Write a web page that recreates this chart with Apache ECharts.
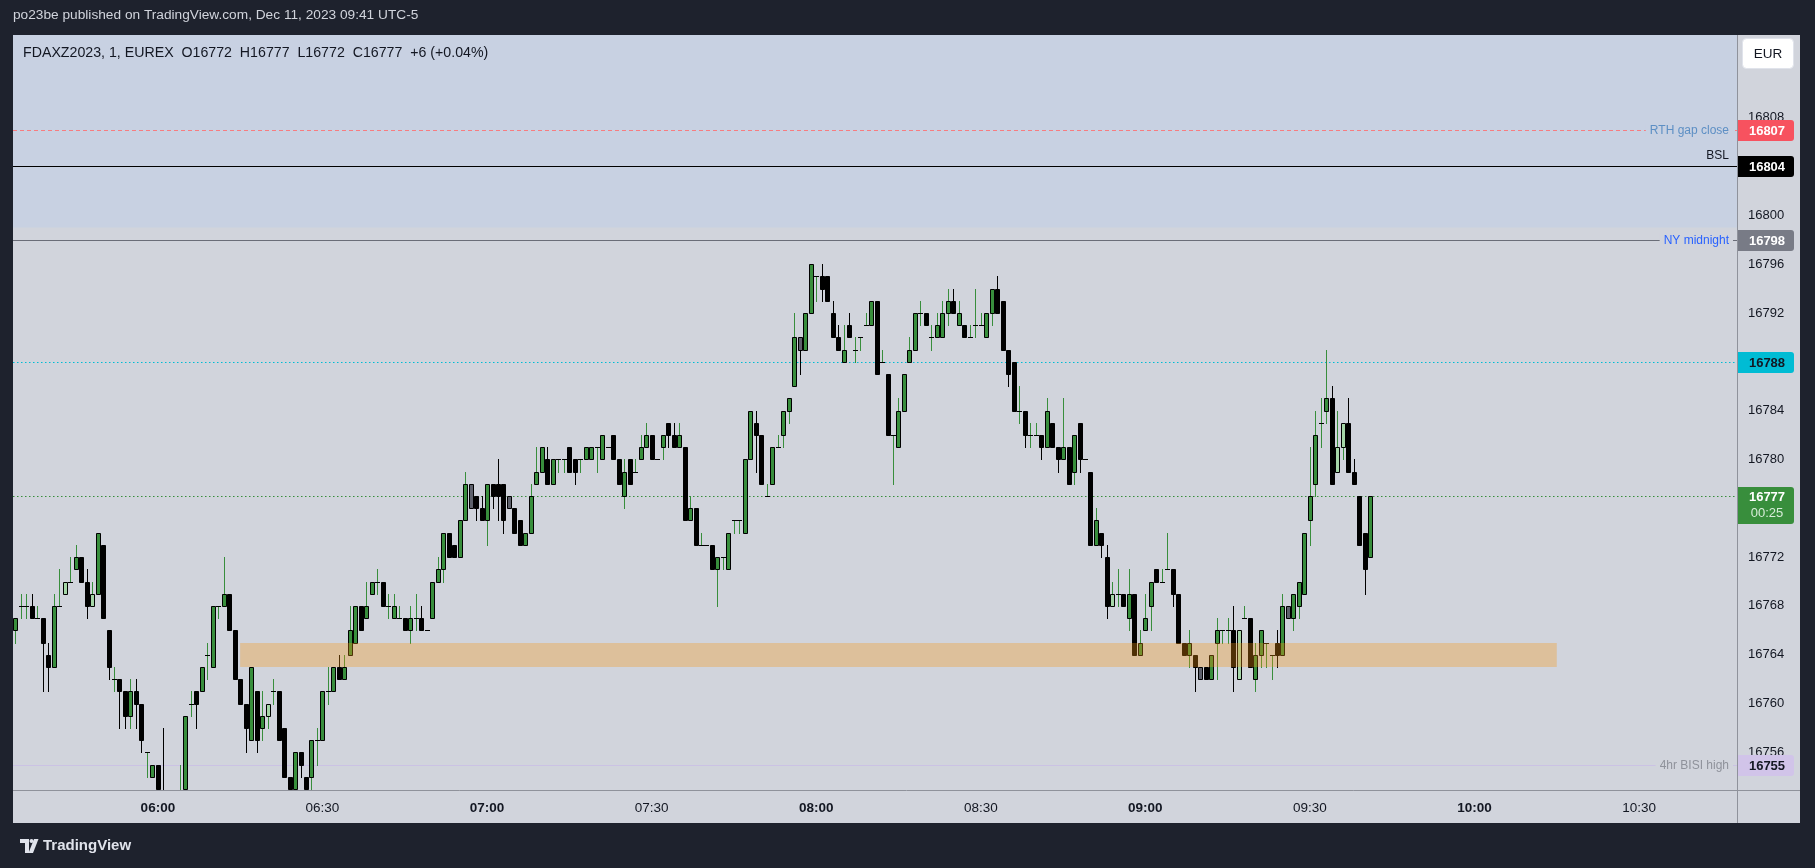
<!DOCTYPE html>
<html><head><meta charset="utf-8">
<script src="https://cdn.jsdelivr.net/npm/echarts@6/dist/echarts.min.js"></script>
<style>html,body{margin:0;padding:0;background:#1e222d;overflow:hidden}#c{width:1815px;height:868px}</style>
</head><body><div id="c"></div><script>
// ---------- data ----------
const symbolName = 'FDAXZ2023, 1, EUREX';
const firstBar = '05:34';
const opens = [
16766,16768,16768,16768,16767,16767,16764,16763,16768,16769,
16770,16771,16772,16770,16768,16769,16773,16766,16762,16762,
16761,16759,16761,16760,16756,16754,16755,16752,16751,16750,
16751,16752,16760,16761,16761,16764,16763,16768,16768,16769,
16766,16762,16760,16757,16761,16758,16759,16761,16761,16758,
16754,16752,16756,16754,16754,16757,16757,16761,16761,16763,
16762,16764,16765,16768,16767,16769,16770,16770,16768,16767,
16767,16767,16766,16767,16767,16766,16767,16770,16771,16774,
16773,16772,16775,16778,16777,16776,16775,16778,16778,16778,
16777,16776,16775,16773,16774,16778,16779,16780,16778,16780,
16780,16781,16780,16780,16780,16780,16781,16780,16781,16782,
16780,16777,16780,16779,16780,16781,16782,16780,16781,16783,
16782,16781,16781,16775,16776,16773,16773,16773,16771,16772,
16771,16775,16775,16774,16780,16783,16782,16777,16778,16781,
16782,16784,16786,16790,16789,16792,16795,16795,16795,16792,
16790,16788,16791,16789,16790,16791,16791,16793,16788,16787,
16782,16781,16784,16788,16789,16792,16792,16790,16790,16790,
16792,16793,16791,16791,16790,16791,16791,16790,16792,16794,
16793,16789,16788,16784,16784,16782,16782,16782,16781,16783,
16781,16780,16781,16779,16783,16780,16779,16773,16774,16772,
16768,16769,16769,16767,16769,16764,16766,16768,16771,16770,
16771,16771,16769,16765,16764,16764,16763,16763,16762,16765,
16766,16766,16766,16762,16767,16767,16762,16764,16765,16764,
16765,16764,16768,16767,16768,16769,16775,16778,16783,16784,
16785,16779,16781,16783,16779,16777,16774,16772];
const highs = [
16767,16769,16769,16769,16768,16767,16765,16769,16771,16770,
16772,16773,16772,16771,16770,16774,16773,16766,16763,16762,
16761,16762,16762,16760,16756,16755,16755,16758,16752,16752,
16755,16759,16761,16761,16763,16765,16768,16768,16772,16769,
16766,16762,16760,16763,16761,16761,16760,16762,16761,16758,
16754,16756,16756,16754,16757,16758,16761,16763,16763,16764,
16764,16768,16768,16768,16770,16770,16771,16770,16769,16769,
16768,16767,16768,16769,16768,16766,16770,16772,16774,16774,
16773,16775,16779,16778,16777,16777,16778,16778,16780,16778,
16777,16776,16775,16774,16778,16781,16781,16781,16780,16780,
16780,16781,16780,16780,16781,16781,16781,16782,16781,16782,
16780,16780,16780,16780,16782,16783,16782,16780,16782,16783,
16783,16783,16781,16777,16776,16774,16773,16773,16772,16772,
16774,16775,16775,16780,16784,16784,16782,16778,16781,16782,
16784,16785,16792,16790,16792,16796,16795,16796,16795,16793,
16791,16791,16792,16790,16790,16792,16793,16793,16789,16787,
16782,16785,16787,16790,16792,16793,16792,16791,16792,16793,
16794,16794,16793,16791,16791,16794,16792,16792,16794,16795,
16793,16789,16788,16786,16784,16783,16783,16782,16785,16783,
16781,16785,16781,16782,16783,16780,16779,16776,16774,16773,
16770,16771,16769,16771,16769,16766,16769,16770,16771,16771,
16774,16771,16769,16765,16766,16764,16763,16763,16764,16767,
16766,16767,16768,16766,16768,16767,16765,16766,16765,16764,
16766,16769,16768,16769,16770,16774,16781,16784,16785,16789,
16786,16784,16783,16785,16780,16777,16774,16777];
const lows = [
16765,16767,16767,16767,16767,16761,16761,16763,16768,16769,
16770,16771,16770,16767,16768,16769,16767,16762,16761,16758,
16758,16758,16758,16756,16754,16754,16751,16750,16749,16749,
16750,16752,16759,16758,16761,16762,16763,16767,16768,16766,
16762,16760,16756,16757,16756,16757,16758,16760,16757,16754,
16751,16751,16754,16751,16753,16755,16757,16760,16761,16762,
16762,16764,16765,16766,16767,16769,16769,16768,16767,16767,
16767,16766,16765,16766,16766,16766,16767,16770,16770,16772,
16772,16772,16775,16776,16775,16775,16773,16776,16775,16774,
16776,16774,16773,16773,16774,16778,16779,16778,16778,16779,
16779,16779,16778,16779,16780,16780,16779,16780,16781,16780,
16778,16776,16778,16779,16780,16781,16780,16780,16780,16781,
16781,16781,16775,16775,16773,16773,16773,16771,16768,16771,
16771,16774,16774,16774,16780,16779,16778,16777,16778,16781,
16781,16783,16786,16787,16789,16792,16793,16793,16793,16790,
16789,16788,16790,16788,16789,16791,16791,16787,16788,16782,
16778,16781,16784,16788,16789,16791,16791,16789,16790,16790,
16791,16792,16791,16790,16790,16790,16791,16790,16791,16792,
16789,16786,16784,16783,16781,16781,16782,16780,16781,16781,
16779,16780,16778,16778,16779,16780,16773,16773,16772,16767,
16768,16768,16768,16766,16764,16764,16766,16766,16770,16770,
16771,16768,16765,16764,16763,16761,16762,16762,16762,16762,
16765,16765,16761,16762,16767,16763,16761,16763,16763,16762,
16763,16764,16767,16766,16767,16769,16773,16777,16781,16783,
16778,16779,16780,16779,16778,16773,16769,16772];
const closes = [
16767,16768,16768,16767,16767,16765,16763,16768,16768,16770,
16770,16772,16770,16768,16769,16774,16767,16763,16762,16761,
16759,16761,16760,16757,16756,16755,16752,16751,16750,16751,
16752,16759,16760,16760,16763,16764,16768,16768,16769,16766,
16762,16760,16758,16763,16757,16759,16760,16761,16757,16754,
16752,16756,16755,16752,16757,16757,16761,16761,16763,16762,
16763,16766,16768,16766,16768,16770,16770,16768,16768,16768,
16767,16766,16767,16767,16766,16766,16770,16771,16774,16772,
16772,16775,16778,16776,16776,16775,16778,16777,16777,16775,
16776,16774,16773,16774,16777,16779,16781,16778,16780,16780,
16780,16779,16779,16780,16781,16781,16781,16782,16781,16780,
16778,16779,16778,16779,16781,16782,16780,16780,16782,16782,
16781,16782,16775,16776,16773,16773,16773,16771,16772,16772,
16774,16775,16775,16780,16784,16782,16778,16777,16781,16781,
16784,16785,16790,16789,16792,16796,16795,16794,16793,16790,
16789,16789,16790,16789,16790,16791,16793,16787,16788,16782,
16782,16784,16787,16789,16792,16792,16791,16790,16791,16792,
16793,16792,16792,16790,16790,16791,16791,16792,16794,16792,
16789,16787,16784,16784,16782,16782,16782,16781,16784,16781,
16780,16781,16778,16782,16780,16780,16773,16775,16773,16768,
16769,16769,16768,16769,16764,16765,16767,16770,16770,16770,
16771,16769,16765,16764,16765,16763,16762,16762,16764,16766,
16766,16766,16763,16766,16767,16763,16764,16766,16765,16764,
16764,16768,16767,16769,16770,16774,16777,16782,16783,16785,
16778,16781,16783,16779,16778,16773,16771,16777];
const insideUpBars = ['05:43','05:48','06:20','08:54','09:17','09:35','09:36'];
const insideDownBars = ['06:57','07:04','07:57','09:10','09:26'];
const timeTicks = ['06:00','06:30','07:00','07:30','08:00','08:30','09:00','09:30','10:00','10:30'];
const priceTicks = [16756,16760,16764,16768,16772,16780,16784,16792,16796,16800,16808];
const levelNames = ['RTH gap close','BSL','NY midnight','4hr BISI high'];
const levelPrices = [16807,16804,16798,16755];
const alertPrice = 16788;
const premiumFrom = 16799;
const zoneTimes = ['06:15','10:15'];
const zonePrices = [16763,16765];
const countdown = '00:25';
const publishLine = 'po23be published on TradingView.com, Dec 11, 2023 09:41 UTC-5';

// ---------- helpers ----------
const FONT = "'Liberation Sans', Arial, sans-serif";
const toMin = s => { const p = s.split(':').map(Number); return p[0]*60+p[1]; };
const fmt = m => String(Math.floor(m/60)).padStart(2,'0')+':'+String(m%60).padStart(2,'0');
const start = toMin(firstBar);
const times = opens.map((_, i) => fmt(start + i));
const upSet = new Set(insideUpBars), dnSet = new Set(insideDownBars);
const candleData = opens.map((o, i) => [toMin(times[i]), o, closes[i], lows[i], highs[i],
  upSet.has(times[i]) ? 1 : (dnSet.has(times[i]) ? 2 : 0)]);
const lastC = closes[closes.length-1], prevC = closes[closes.length-2];
const lastI = closes.length-1;

const PLOT = {left:13, top:35, width:1724, height:755};
const X_MIN = 333.59, X_MAX = 647.85;
const Y_MIN = 16752.92, Y_MAX = 16814.77;
const C_UP = '#388e3c', C_DN = '#000000', C_IUP = '#a5d6a7', C_IDN = '#5d606b';
const BG = '#d1d4dc', PREMIUM = '#c8d1e2';

function renderCandle(params, api) {
  const cs = params.coordSys;
  const top = cs.y, bot = cs.y + cs.height;
  const m = api.value(0), o = api.value(1), c = api.value(2), l = api.value(3), h = api.value(4), kind = api.value(5);
  const up = c >= o;
  const cx = Math.round(api.coord([m, o])[0]);
  const yO = Math.round(api.coord([m, o])[1]), yC = Math.round(api.coord([m, c])[1]);
  const yH = Math.round(api.coord([m, h])[1]), yL = Math.round(api.coord([m, l])[1]);
  const bw = Math.max(1, Math.round(api.size([1, 0])[0] * 0.85));
  const x0 = cx - Math.floor(bw/2);
  const cl = y => Math.max(top, Math.min(bot, y));
  const ch = [];
  const wickCol = up ? C_UP : C_DN;
  const wy1 = cl(yH), wy2 = cl(yL + 1);
  if (wy2 > wy1) ch.push({type:'line', shape:{x1:cx+0.5, y1:wy1, x2:cx+0.5, y2:wy2}, style:{stroke:wickCol, lineWidth:1}});
  let yT = Math.min(yO, yC), yB = Math.max(yO, yC);
  const fill = kind === 1 ? C_IUP : kind === 2 ? C_IDN : (up ? C_UP : C_DN);
  if (yB > yT) {
    const t2 = Math.max(top, yT), b2 = Math.min(bot - 1, yB);
    if (b2 > t2) ch.push({type:'rect', shape:{x:x0+0.5, y:t2+0.5, width:bw-1, height:b2-t2}, style:{fill:fill, stroke:'#000', lineWidth:1}});
  } else if (yT >= top && yT <= bot) {
    ch.push({type:'line', shape:{x1:x0, y1:yT+0.5, x2:x0+bw, y2:yT+0.5}, style:{stroke:'#000', lineWidth:1}});
  }
  return {type:'group', children:ch};
}
function renderPremium(params, api) {
  const cs = params.coordSys;
  const y1 = api.coord([X_MIN, api.value(0)])[1];
  return {type:'rect', shape:{x:cs.x, y:cs.y, width:cs.width, height:y1 - cs.y}, style:{fill:PREMIUM}};
}
function renderZone(params, api) {
  const p1 = api.coord([api.value(0), api.value(3)]);
  const p2 = api.coord([api.value(1), api.value(2)]);
  return {type:'rect', shape:{x:p1[0], y:Math.round(p1[1]), width:p2[0]-p1[0], height:Math.round(p2[1])-Math.round(p1[1])},
    style:{fill:'rgba(247,150,20,0.32)'}};
}
const lineStyles = [
  {stroke:'#f77c80', lineDash:[4,3]},
  {stroke:'#000000', lineDash:null},
  {stroke:'#6a6d78', lineDash:null},
  {stroke:'#cbc2e4', lineDash:null},
  {stroke:'#00bcd4', lineDash:[1.5,2.5]},
  {stroke:'#388e3c', lineDash:[1.5,2.5]}
];
function renderLevel(params, api) {
  const cs = params.coordSys;
  const y = Math.round(api.coord([X_MIN, api.value(0)])[1]) + 0.5;
  const st = lineStyles[params.dataIndex];
  return {type:'line', shape:{x1:cs.x, y1:y, x2:cs.x+cs.width, y2:y},
    style:{stroke:st.stroke, lineWidth:1, lineDash:st.lineDash}};
}

const chart = echarts.init(document.getElementById('c'));
chart.setOption({
  animation:false,
  backgroundColor:'#1e222d',
  grid:{left:PLOT.left, top:PLOT.top, width:PLOT.width, height:PLOT.height, show:true, backgroundColor:BG, borderWidth:0},
  xAxis:{type:'value', min:X_MIN, max:X_MAX, splitLine:{show:false}, axisLine:{show:false}, axisTick:{show:false},
    axisLabel:{customValues: timeTicks.map(toMin), margin:11, color:'#131722', fontSize:13.5, fontFamily:FONT,
      formatter: v => (v % 60 === 0 ? '{b|' + fmt(v) + '}' : fmt(v)),
      rich:{b:{fontWeight:'bold', fontSize:13.5, fontFamily:FONT, color:'#131722'}}}},
  yAxis:{type:'value', position:'right', min:Y_MIN, max:Y_MAX, scale:true, splitLine:{show:false},
    axisLine:{show:false}, axisTick:{show:false},
    axisLabel:{customValues: priceTicks, margin:11, color:'#131722', fontSize:13, fontFamily:FONT,
      formatter: v => String(Math.round(v))}},
  series:[
    {type:'custom', name:'premium', z:1, silent:true, renderItem:renderPremium, data:[[premiumFrom]]},
    {type:'custom', name:'levels', z:2, silent:true, renderItem:renderLevel,
      data:[...levelPrices, alertPrice, lastC].map(v => [v])},
    {type:'custom', name:'candles', z:5, silent:true, renderItem:renderCandle, data:candleData,
      encode:{x:0, y:[1,2,3,4]}, clip:true},
    {type:'custom', name:'zone', z:8, silent:true, renderItem:renderZone,
      data:[[toMin(zoneTimes[0]), toMin(zoneTimes[1]), zonePrices[0], zonePrices[1]]]}
  ]
});

// ---------- annotations ----------
const yPx = v => chart.convertToPixel({yAxisIndex:0}, v);
const AX = PLOT.left + PLOT.width; // price axis left edge
const RIGHT = 1800, TBOT = 823;
const g = [];
g.push({type:'rect', z:-5, shape:{x:PLOT.left, y:PLOT.top, width:RIGHT-PLOT.left, height:TBOT-PLOT.top}, style:{fill:BG}});
g.push({type:'line', z:50, shape:{x1:AX+0.5, y1:PLOT.top, x2:AX+0.5, y2:TBOT}, style:{stroke:'#8f929b', lineWidth:1}});
g.push({type:'line', z:50, shape:{x1:PLOT.left, y1:PLOT.top+PLOT.height+0.5, x2:RIGHT, y2:PLOT.top+PLOT.height+0.5}, style:{stroke:'#8f929b', lineWidth:1}});
// header texts
g.push({type:'text', z:60, style:{text:publishLine, x:13, y:15, fill:'#d1d4dc', font:'13.7px '+FONT, verticalAlign:'middle'}});
const chg = lastC - prevC;
const legend = symbolName + '  O' + opens[lastI] + '  H' + highs[lastI] + '  L' + lows[lastI] + '  C' + closes[lastI] +
  '  ' + (chg >= 0 ? '+' : '') + chg + ' (' + (chg >= 0 ? '+' : '') + (chg / prevC * 100).toFixed(2) + '%)';
g.push({type:'text', z:60, style:{text:legend, x:23, y:53, fill:'#131722', font:'14.2px '+FONT, verticalAlign:'middle'}});
// EUR button
g.push({type:'rect', z:60, shape:{x:1742.5, y:38.5, width:51, height:30, r:4}, style:{fill:'#ffffff', stroke:'#e0e3eb', lineWidth:1}});
g.push({type:'text', z:61, style:{text:'EUR', x:1768, y:54, fill:'#131722', font:'13.5px '+FONT, align:'center', verticalAlign:'middle'}});
// level labels on the lines and price tags
const levelText = [
  {col:'#5d8fc4', bg:PREMIUM, above:false, tag:'#f7525f', tagText:'#ffffff'},
  {col:'#131722', bg:null, above:true, tag:'#000000', tagText:'#ffffff'},
  {col:'#2962ff', bg:BG, above:false, tag:'#787b86', tagText:'#ffffff'},
  {col:'#8f929b', bg:BG, above:false, tag:'#d1c4e9', tagText:'#131722'}
];
function tag(price, color, textColor, label, h) {
  const y = Math.round(yPx(price));
  g.push({type:'rect', z:70, shape:{x:AX+1, y:y-10, width:56, height:h || 21, r:[0,3,3,0]}, style:{fill:color}});
  g.push({type:'text', z:71, style:{text:label, x:AX+30, y:y+1, fill:textColor, font:'bold 13px '+FONT, align:'center', verticalAlign:'middle'}});
}
levelPrices.forEach((p, i) => {
  const st = levelText[i];
  const y = Math.round(yPx(p)) + 0.5;
  g.push({type:'text', z:65, style:{text:levelNames[i], x:AX-4, y: st.above ? y-11 : y, fill:st.col,
    font:'12px '+FONT, align:'right', verticalAlign:'middle', backgroundColor: st.bg || 'transparent', padding:[1,4,1,4]}});
  tag(p, st.tag, st.tagText, String(p));
});
tag(alertPrice, '#00bcd4', '#131722', String(alertPrice));
{
  const y = Math.round(yPx(lastC));
  g.push({type:'rect', z:70, shape:{x:AX+1, y:y-9, width:56, height:37, r:[0,3,3,0]}, style:{fill:'#388e3c'}});
  g.push({type:'text', z:71, style:{text:String(lastC), x:AX+30, y:y+1, fill:'#ffffff', font:'bold 13px '+FONT, align:'center', verticalAlign:'middle'}});
  g.push({type:'text', z:71, style:{text:countdown, x:AX+30, y:y+17, fill:'#d7ecd8', font:'13px '+FONT, align:'center', verticalAlign:'middle'}});
}
// footer logo
g.push({type:'polygon', z:60, shape:{points:[[20,839],[29,839],[29,853],[25,853],[25,843],[20,843]]}, style:{fill:'#e0e3eb'}});
g.push({type:'circle', z:60, shape:{cx:31.5, cy:841, r:2}, style:{fill:'#e0e3eb'}});
g.push({type:'polygon', z:60, shape:{points:[[34,839],[38.5,839],[33,853],[28.5,853]]}, style:{fill:'#e0e3eb'}});
g.push({type:'text', z:60, style:{text:'TradingView', x:43, y:846, fill:'#e0e3eb', font:'bold 15px '+FONT, verticalAlign:'middle'}});
chart.setOption({graphic:g});
</script></body></html>
